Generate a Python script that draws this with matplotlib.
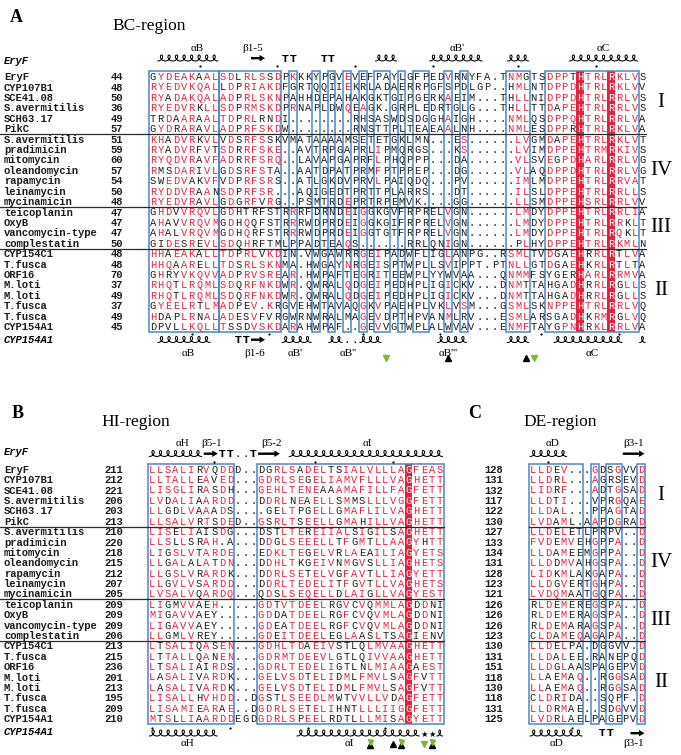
import numpy as np
import matplotlib
matplotlib.use("Agg")
import matplotlib.pyplot as plt
from matplotlib.patches import Rectangle, FancyArrow

# ---------------- data ----------------
names = ["EryF", "CYP107B1", "SCE41.08", "S.avermitilis", "SCH63.17", "PikC",
         "S.avermitilis", "pradimicin", "mitomycin", "oleandomycin", "rapamycin",
         "leinamycin", "mycinamicin", "teicoplanin", "OxyB", "vancomycin-type",
         "complestatin", "CYP154C1", "T.fusca", "ORF16", "M.loti", "M.loti",
         "T.fusca", "T.fusca", "CYP154A1"]

num_A = [44, 48, 50, 36, 49, 57, 51, 59, 60, 57, 54, 50, 48, 47, 47, 47, 50,
         48, 48, 70, 37, 49, 37, 49, 45]
num_B = [211, 212, 221, 206, 203, 213, 210, 220, 218, 215, 212, 207, 205, 209,
         209, 209, 206, 213, 215, 236, 201, 213, 195, 209, 210]
num_C = [128, 131, 132, 117, 122, 130, 127, 133, 134, 131, 128, 123, 121, 126,
         126, 126, 123, 130, 131, 151, 118, 130, 118, 131, 125]

seq_A = [
    "GYDEAKAAL" "SDLRLSSD" "PKKKYPGV" "EVEFPAYLGFPEDVRNYFA" "." "TNMGTSDPPTHTRLRKLVS",
    "RYEDVKQAL" "LDPRIAKD" "FGRTQQ" "IIEKRLADAERRPGFSPDLGP" ".." "HMLNTDPPDHTRLRKLVV",
    "RYADAKQAL" "ADPRLSKN" "PAHHDE" "PAHAKGKTGIPGERKAEIM" "..." "THLLNIDPPDHTRLRRLVS",
    "RYEDVRKLL" "SDPRMSKD" "PRNAPL" "DWQEAGK.GRPLEDRTGLG" "..." "THLLTTDAPEHTRLRRLVS",
    "TRDAARAAL" "TDPRLRND" "I" "........" "RHSASWDSDGGHAIGH" "...." "NMLQSDPPQHTRLRRLVA",
    "GYDRARAVL" "ADPRFSKD" "W" "........" "RNSTTPLTEAEAALNH" "...." "NMLESDPPRHTRLRKLVA",
    "KHADVRKVL" "VDSRFSSK" "VMATAA" "AAMSETETGKLMN" "..." "ES" "......" "LVGMDAPEHTRLRKLVT",
    "RYADVRFVT" "SDRRFSKE" "..AVTR" "PGAPRLIPMQRGS" "..." "KS" "......" "LVIMDPPEHTRMRKIVS",
    "RYQDVRAVF" "ADRRFSRQ" "..LAVA" "PGAPRFLPHQPPP" "..." "DA" "......" "VLSVEGPDHARLRRLVG",
    "RMSDARIVL" "GDSRFSTA" "..AATD" "PATPRMFPTPPEP" "..." "DG" "......" "VLAQDPPDHTRLRRLVG",
    "SWEDVAKVF" "VDPRFSRS" "..ATLG" "KDVPRVLPAIQDQ" "..." "PV" "......" "IMLMDPPEHTRLRRVAT",
    "RYDDVRAAN" "SDPRFSR." "..AQIG" "EDTPRTTPLARRS" "..." "DT" "......" "ILSLDPPEHTRLRRLLS",
    "RYEDVRAVL" "GDGRFVRG" "..PSMT" "RDEPRTRPEMVK" "...." "GG" "......" "LLSMDPPEHSRLRRLVV",
    "GHDVVRQVL" "GDHTRFST" "RRRFDR" "NDEIGGKGVFRPRELVGN" "......" "LMDYDPPEHTRLRRLIA",
    "AHAVVRQVM" "GDHQQFST" "RRRWDP" "RDEIGGKGIFRPRELVGN" "......" "LMDYDPPEHTRLRRKLT",
    "AHALVRQVM" "GDHQRFST" "RRRWDP" "RDEIGGTGTFRPRELVGN" "......" "LMDYDPPEHTRLRQKLT",
    "GIDESREVL" "SDQHRFTM" "LPPADT" "EAQS" "......" "RRLQNIGN" "......" "PLHYDPPEHTRLRKMLN",
    "HHAEAKALL" "TDPRLVKD" "IN.VWG" "AWRRGEIPADWFLIGLANPG" ".." "RSMLTVDGAEHRRLRTLVA",
    "HHQAARELL" "TDSRLSKN" "MA.HWG" "AYNRGEISPTWPLLSVIPPT" "." "PTNLLGTDGAEHKRLRTLTA",
    "GHRYVKQVV" "ADPRVSRE" "AR.HWP" "AFTEGRITEEWPLYYWVAA" "..." "QNMMFSYGERHARLRRMVA",
    "RHQTLRQML" "SDQRFNKD" "WR.QWR" "ALQDGEIPEDHPLIGICKV" "..." "DNMTTAHGADHRRLRGLLS",
    "RHQTLRQML" "SDQRFNKD" "WR.QWR" "ALQDGEIPEDHPLIGICKV" "..." "DNMTTAHGADHRRLRGLLS",
    "GYEELRTLM" "ADPEV.KR" "GVEHWT" "AVAQGKVPAEHPLVKLVSM" "..." "GSMLSKNPPEHTRLRRLVQ",
    "HDAPLRNAL" "ADESVFVR" "GWRNWR" "ALMAGEVDPTHPVANMLRV" "..." "ESMLARSGADHKRMRGLVQ",
    "DPVLLKQLL" "TSSDVSKD" "ARAHWP" "AF..GEVVGTWPLALWVAV" "..." "ENMFTAYGPNHRKLRRLVA",
]

seq_B = [
    "LLSALIRVQDDD..DGRLSADELTSIALVLLLAGFEAS",
    "LLTALLEAVED...GDRLSEGELIAMVFLLLVAGHETT",
    "LISGLIRASDH...GEHLTENEAAAMAFILLFAGFETT",
    "LVDALIAARDD...DDRLNEAELLSMMSLLLVGGFETT",
    "LLGDLVAAADS....GELTPGELLGMAFLILVAGHETT",
    "LLSALVRTSDED..GSRLTSEELLGMAHILLVAGHETT",
    "LISELIAISDG...DSTLTEREIIALSIGILSAGHETT",
    "LLSLLSRAH.A...DDGLSEEELLTFGMTLLAAGYHTT",
    "LIGSLVTARDE...EDKLTEGELVRLAEAILIAGYETS",
    "LLGALALATDN...DDHLTKGEIVNMGVSLLIAGHETS",
    "LLGSLVRARDK...DDRLSETELVGFAVTLLIAGYETT",
    "LLGVLVSARDD...DDRLTEDELITFGVTLLVAGHETS",
    "LVSALVQARDQ...QDSLSEQELLDLAIGLLVAGYEST",
    "LIGMVVAEH.....GDTVTDEELRGVCVQMMLAGDDNI",
    "MIGAVVAEY.....GDDATDEELRGFCVQVMLAGDDNI",
    "LIGAVVAEY.....GDEATDEELRGFCVQVMLAGDDNI",
    "LLGMLVREY.....GDEITDEELEGLAASLTSAGIENV",
    "LTSALIQASEN...GDHLTDAEIVSTLQLMVAAGHETT",
    "LTTALLQANEN...GDRMTDEEVLGTLQIVVAAGHETT",
    "LTSALIAIRDS...GDRLTEDELIGTLNLMIAAGAEST",
    "LASALIVARDK...GELVSDTELIDMLFMVLSAGFVTT",
    "LASALIVARDK...GELVSDTELIDMLFMVLSAGFVTT",
    "LISALLHVHDD..DGSTLSEEDLMWTVVLLVDAGFETT",
    "LISAMIEARAE..DGDRLSETELIHNTLLLIIGGFETT",
    "MTSLLIAARDDEGDGDRLSPEELRDTLLLMISAGYETT",
]

seq_C = [
    "LLDEV...GDSGVVD", "LLDRL...AGRSEVD", "LIDRF...ADTGSAD", "LLDTI...VPRGQAE",
    "LLDAL...PPAGTAD", "LVDAML.AAPDGRAD", "LLDELETLPRPV..D", "FVDEMVEHGPPA..D",
    "LLDAMEEMGPPA..D", "LLDDMVAHGSPA..D", "LIDKMLAKGAPA..D", "LLDGVERTGHPA..D",
    "LVDQMAATGQPA..D", "RLDEMEREGSPA..D", "RLDEMERAGSPA..D", "RLDEMARAGSPA..D",
    "CLDAMEQAGAPA..D", "LLDELPA.DGGVV.D", "LLDALEE.RANEPQD", "LLDGLAASPAGEPVD",
    "LLAEMAQ..RGGSAD", "LLAEMAQ..RGGSAD", "CLDRIDA..SQPF.D", "LLDRMAE..SDGVVD",
    "LVDRLAELPAGEPVD",
]

# boxed (similar) column ranges, 1-based inclusive
boxes_A = [(1, 9), (10, 17), (19, 19), (22, 22), (24, 24), (26, 26), (28, 28),
           (30, 31), (33, 33), (35, 36), (39, 39), (41, 41), (47, 49), (52, 63)]
boxes_B = [(1, 11), (15, 38)]
boxes_C = [(1, 7), (9, 9), (11, 12), (15, 15)]

# subfamily groups: (first row, end row, label)
groups = [(0, 6, "I"), (6, 13, "IV"), (13, 17, "III"), (17, 25, "II")]

# secondary structure: (kind, start col, end col)
ss_A_top = [("h", 2, 9), ("a", 14, 15), ("T", 18, 18), ("T", 19, 19), ("T", 23, 23),
            ("T", 24, 24), ("h", 30, 32), ("h", 37, 43), ("h", 47, 49), ("h", 55, 63)]
dots_A_top = [7, 17, 27, 37, 48, 58]
lab_A_top = [("αB", 6.7), ("β1-5", 13.8), ("αB'", 40.1), ("αC", 58.9)]

ss_A_bot = [("h", 2, 8), ("T", 12, 12), ("T", 13, 13), ("a", 14, 15), ("h", 18, 21),
            ("h", 24, 25), (".", 26, 26), (".", 27, 27), ("h", 28, 30), ("h", 38, 41),
            ("h", 47, 49), ("h", 53, 61), ("h", 64, 64)]
dots_A_bot = [6, 16, 28, 38, 51, 61]
lab_A_bot = [("αB", 5.5), ("β1-6", 14.1), ("αB'", 19.3), ("αB''", 26.1),
             ("αB'''", 39.0), ("αC", 57.6)]
tri_A = [(31, "v"), (39, "^"), (49, "^"), (50, "v")]

ss_B_top = [("h", 1, 7), ("a", 8, 9), ("T", 10, 10), ("T", 11, 11), (".", 12, 12),
            (".", 13, 13), ("T", 14, 14), ("a", 15, 17), ("h", 19, 38)]
dots_B_top = [9, 22, 32]
lab_B_top = [("αH", 4.9), ("β5-1", 8.6), ("β5-2", 16.3), ("αI", 28.7)]

ss_B_bot = [("h", 1, 9), ("h", 20, 35), ("*", 36, 36), ("*", 37, 37), ("h", 38, 38)]
dots_B_bot = [1, 11, 21, 31]
lab_B_bot = [("αH", 5.5), ("αI", 26.4)]
tri_B = [(29, "x"), (32, "^"), (33, "x"), (36, "v"), (37, "x")]

ss_C_top = [("h", 1, 5), ("a", 13, 15)]
dots_C_top = [3]
lab_C_top = [("αD", 3.5), ("β3-1", 14.0)]
ss_C_bot = [("h", 1, 7), ("T", 10, 10), ("T", 11, 11), ("a", 14, 15)]
dots_C_bot = [6]
lab_C_bot = [("αD", 4.1), ("β3-1", 14.0)]

# ---------------- drawing ----------------
W, H = 681, 755
fig = plt.figure(figsize=(W / 100, H / 100), dpi=100)
ax = fig.add_axes([0, 0, 1, 1])
ax.set_xlim(0, W)
ax.set_ylim(H, 0)
ax.axis("off")

MONO = "Liberation Mono"
SERIF = "Liberation Serif"
RED = "#e3223d"
BLUE = "#4a86c8"
TXT = "#1c1c1c"
GREEN = "#7cb83a"

SIM = ["ILVM", "ILVMF", "FYW", "HY", "KRH", "KRQ", "DE", "DN", "EQ", "NQ", "DENQ",
       "ST", "AG", "AST", "NS", "AV"]


def similar(a, b):
    if a == b:
        return True
    return any(a in g and b in g for g in SIM)


def draw_panel(seqs, x0, cw, y0, dy, boxes, fs=7.5):
    nrow = len(seqs)
    ncol = max(len(s) for s in seqs)
    seqs = [s.ljust(ncol, ".") for s in seqs]
    top = y0 - dy / 2
    bot = y0 + (nrow - 1) * dy + dy / 2
    inbox = set()
    for a, b in boxes:
        inbox.update(range(a - 1, b))
    filled = set()
    for c in range(ncol):
        colres = [s[c] for s in seqs]
        if colres[0] != "." and all(r == colres[0] for r in colres):
            filled.add(c)
            ax.add_patch(Rectangle((x0 + c * cw, top), cw, bot - top, color=RED,
                                   lw=0, zorder=1))
    for a, b in boxes:
        ax.add_patch(Rectangle((x0 + (a - 1) * cw, top), (b - a + 1) * cw, bot - top,
                               fill=False, ec=BLUE, lw=1.1, zorder=3))
    for c in range(ncol):
        colres = [s[c] for s in seqs if s[c] != "."]
        for i, s in enumerate(seqs):
            ch = s[c]
            if c in filled:
                color = "white"
            elif c in inbox and ch != "." and colres:
                frac = sum(similar(ch, r) for r in colres) / len(colres)
                color = RED if frac >= 0.5 else TXT
            else:
                color = TXT
            ax.text(x0 + (c + 0.5) * cw, y0 + i * dy + 3.3, ch, ha="center",
                    va="baseline", fontsize=fs, family=MONO, color=color, zorder=4)
    return top, bot


def helix(x0, x1, yb, h=6.0, cw=7.77):
    n = max(1, int(round((x1 - x0) / cw)))
    w = (x1 - x0) / n
    r = w / (2 * np.pi)
    d = 2.3 * r
    t = np.linspace(0, 2 * np.pi * n, 120 * n)
    x = x0 + r * t + d * np.sin(t)
    y = yb - h * (1 - np.cos(t)) / 2
    ax.plot(x, y, color="black", lw=0.75, solid_capstyle="round", zorder=5)


def draw_ss(ss, dots, labels, x0, cw, yb, ydot, ylab):
    for kind, a, b in ss:
        xa = x0 + (a - 1) * cw
        xb = x0 + b * cw
        if kind == "h":
            helix(xa + 1, xb - 1, yb, cw=cw)
        elif kind == "a":
            ax.add_patch(FancyArrow(xa + 1, yb - 2.8, xb - xa - 1.5, 0, width=2.4,
                                    head_width=6.5, head_length=5.5,
                                    length_includes_head=True, color="black",
                                    lw=0, zorder=5))
        elif kind == "T":
            ax.text((xa + xb) / 2, yb + 0.5, "T", ha="center", va="baseline",
                    fontsize=6.8, family="DejaVu Sans", fontweight="bold", zorder=5)
        elif kind == ".":
            ax.text((xa + xb) / 2, yb + 0.5, ".", ha="center", va="baseline",
                    fontsize=7, family=SERIF, fontweight="bold", zorder=5)
        elif kind == "*":
            ax.text((xa + xb) / 2, yb + 0.8, "★", ha="center", va="baseline",
                    fontsize=6, family="DejaVu Sans", zorder=5)
    for c in dots:
        ax.plot([x0 + (c - 0.5) * cw], [ydot], "o", ms=1.6, color="black",
                mec="none", zorder=5)
    for lab, c in labels:
        ax.text(x0 + (c - 0.5) * cw, ylab, lab, ha="center", va="center",
                fontsize=8, family=SERIF, zorder=5)


def triangles(tris, x0, cw, y):
    for c, k in tris:
        x = x0 + (c - 0.5) * cw
        if k == "v":
            ax.plot([x], [y], "v", ms=4.6, color=GREEN, mec=GREEN, zorder=6)
        elif k == "^":
            ax.plot([x], [y], "^", ms=4.6, color="black", zorder=6)
        else:
            ax.plot([x], [y + 1.3], "^", ms=4.0, color="black", zorder=6)
            ax.plot([x], [y - 1.6], "v", ms=3.6, color=GREEN, mec=GREEN, zorder=6)


def names_numbers(nums, y0, dy, xnum, with_names=True):
    for i, n in enumerate(nums):
        y = y0 + i * dy + 3.4
        if with_names:
            ax.text(4, y, names[i], ha="left", va="baseline", fontsize=7.6,
                    family=MONO, fontweight="bold", color=TXT)
        ax.text(xnum, y, str(n), ha="right", va="baseline", fontsize=7.6,
                family=MONO, fontweight="bold", color=TXT)


def separators(y0, dy, xa, xb):
    for g0, g1, lab in groups[1:]:
        y = y0 + (g0 - 0.5) * dy
        ax.plot([xa, xb], [y, y], color="#2a2a2a", lw=0.9, zorder=6)


def group_labels(y0, dy, x):
    for g0, g1, lab in groups:
        y = y0 + ((g0 + g1 - 1) / 2) * dy
        ax.text(x, y, lab, ha="center", va="center", fontsize=15, family=SERIF)


# ---- Panel A ----
xA, cwA, yA, dyA = 149.0, 7.77, 76.7, 10.42
ax.text(10, 18, "A", fontsize=13, family=SERIF, fontweight="bold", va="center")
ax.text(112, 26, "BC-region", fontsize=12.5, family=SERIF, va="center")
draw_panel(seq_A, xA, cwA, yA, dyA, boxes_A)
names_numbers(num_A, yA, dyA, 123)
separators(yA, dyA, 0, xA + 64 * cwA)
group_labels(yA, dyA, 661)
ax.text(4, 61 + 3.4, "EryF", fontsize=7.6, family=MONO, fontweight="bold",
        style="italic", va="baseline")
ax.text(4, 339.3 + 3.4, "CYP154A1", fontsize=7.6, family=MONO, fontweight="bold",
        style="italic", va="baseline")
draw_ss(ss_A_top, dots_A_top, lab_A_top, xA, cwA, 61.0, 65.5, 48.5)
draw_ss(ss_A_bot, dots_A_bot, lab_A_bot, xA, cwA, 342.5, 334.0, 353.0)
triangles(tri_A, xA, cwA, 357.5)

# ---- Panel B ----
xB, cwB, yB, dyB = 148.3, 7.77, 469.4, 10.39
ax.text(12, 413, "B", fontsize=13, family=SERIF, fontweight="bold", va="center")
ax.text(101, 422, "HI-region", fontsize=12.5, family=SERIF, va="center")
draw_panel(seq_B, xB, cwB, yB, dyB, boxes_B)
names_numbers(num_B, yB, dyB, 123)
separators(yB, dyB, 0, xB + 38 * cwB)
ax.text(4, 451.7 + 3.4, "EryF", fontsize=7.6, family=MONO, fontweight="bold",
        style="italic", va="baseline")
ax.text(4, 731.7 + 3.4, "CYP154A1", fontsize=7.6, family=MONO, fontweight="bold",
        style="italic", va="baseline")
draw_ss(ss_B_top, dots_B_top, lab_B_top, xB, cwB, 456.5, 462.0, 443.5)
draw_ss(ss_B_bot, dots_B_bot, lab_B_bot, xB, cwB, 736.0, 727.5, 743.5)
triangles(tri_B, xB, cwB, 744.0)

# ---- Panel C ----
xC, cwC = 529.0, 7.73
ax.text(468, 413, "C", fontsize=13, family=SERIF, fontweight="bold", va="center")
ax.text(523, 422, "DE-region", fontsize=12.5, family=SERIF, va="center")
draw_panel(seq_C, xC, cwC, yB, dyB, boxes_C)
names_numbers(num_C, yB, dyB, 503, with_names=False)
separators(yB, dyB, xC, xC + 15 * cwC)
group_labels(yB, dyB, 661)
draw_ss(ss_C_top, dots_C_top, lab_C_top, xC, cwC, 456.5, 462.0, 443.5)
draw_ss(ss_C_bot, dots_C_bot, lab_C_bot, xC, cwC, 736.0, 727.5, 743.5)

fig.savefig("out.png", dpi=100)
